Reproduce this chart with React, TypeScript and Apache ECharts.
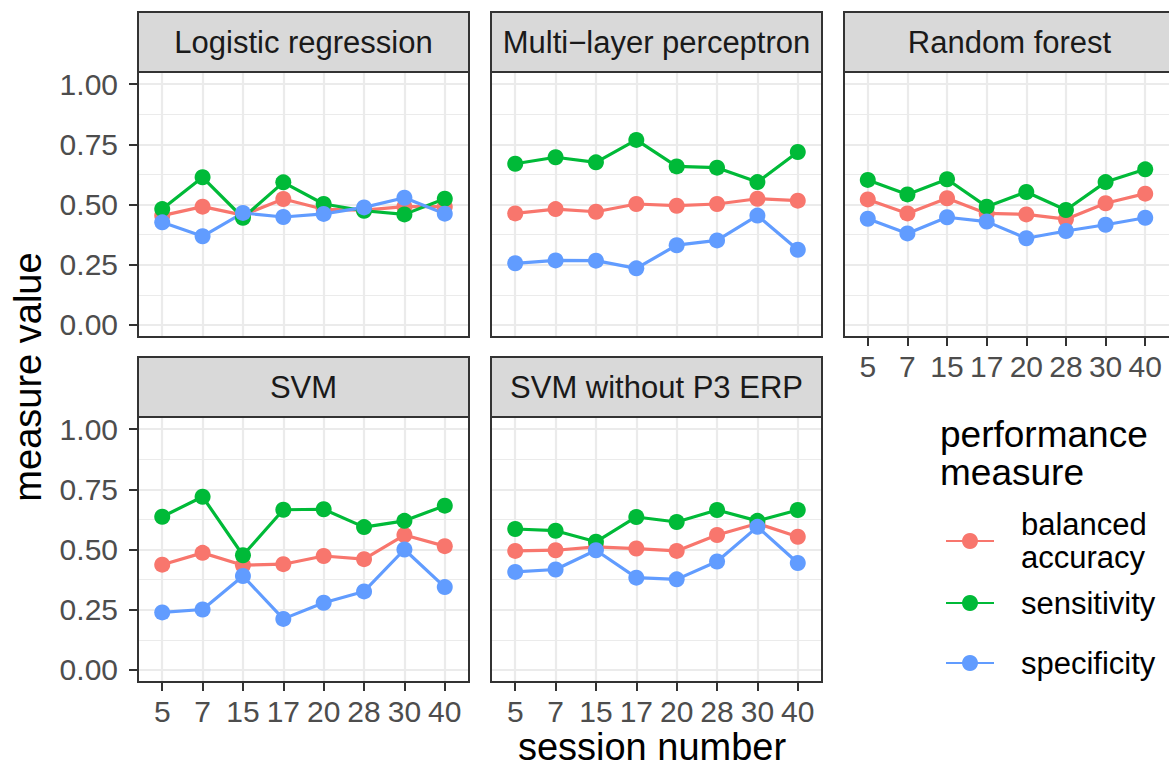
import React, { useEffect, useRef } from "react";
import * as echarts from "echarts";

// Session numbers shown on the discrete x axis
const sessions = ["5", "7", "15", "17", "20", "28", "30", "40"];

// Facet titles (one panel per classifier)
const models = [
  "Logistic regression",
  "Multi\u2212layer perceptron",
  "Random forest",
  "SVM",
  "SVM without P3 ERP",
];

const measures = ["balanced accuracy", "sensitivity", "specificity"];
const measureColors = ["#F8766D", "#00BA38", "#619CFF"];

// Rows follow the order of `models`, columns follow `sessions`
const balancedAccuracy = [
  [0.454, 0.491, 0.456, 0.523, 0.48, 0.477, 0.491, 0.491],
  [0.463, 0.481, 0.47, 0.502, 0.495, 0.502, 0.524, 0.516],
  [0.521, 0.463, 0.526, 0.463, 0.459, 0.439, 0.505, 0.545],
  [0.437, 0.486, 0.435, 0.439, 0.473, 0.46, 0.56, 0.514],
  [0.494, 0.497, 0.511, 0.504, 0.494, 0.56, 0.608, 0.553],
];

const sensitivity = [
  [0.481, 0.613, 0.445, 0.592, 0.502, 0.474, 0.459, 0.524],
  [0.669, 0.696, 0.675, 0.768, 0.658, 0.653, 0.593, 0.718],
  [0.602, 0.542, 0.605, 0.491, 0.552, 0.477, 0.593, 0.646],
  [0.636, 0.719, 0.476, 0.665, 0.667, 0.593, 0.619, 0.682],
  [0.585, 0.578, 0.532, 0.635, 0.614, 0.664, 0.619, 0.664],
];

const specificity = [
  [0.426, 0.368, 0.465, 0.448, 0.461, 0.488, 0.528, 0.462],
  [0.256, 0.268, 0.267, 0.235, 0.331, 0.351, 0.454, 0.312],
  [0.441, 0.38, 0.447, 0.429, 0.36, 0.39, 0.416, 0.445],
  [0.239, 0.251, 0.39, 0.212, 0.279, 0.326, 0.5, 0.344],
  [0.407, 0.417, 0.497, 0.383, 0.376, 0.45, 0.594, 0.444],
];

const yMajorTicks = [0, 0.25, 0.5, 0.75, 1];
const yMinorTicks = [0.125, 0.375, 0.625, 0.875];

const FONT = "'Liberation Sans', Arial, Helvetica, sans-serif";

// Facet layout (pixels)
const PANEL_W = 331;
const PANEL_H = 265;
const STRIP_H = 60;
const panelPos = [
  { left: 138, top: 72 },
  { left: 491, top: 72 },
  { left: 844, top: 72 },
  { left: 138, top: 417 },
  { left: 491, top: 417 },
];
const showXAxis = [false, false, true, true, true];
const showYAxis = [true, false, false, true, false];

function buildOption(): echarts.EChartsOption {
  const valueSets = [balancedAccuracy, sensitivity, specificity];
  const xPositions = sessions.map((_, i) => i + 1);

  const grid = panelPos.map((p) => ({
    left: p.left,
    top: p.top,
    width: PANEL_W,
    height: PANEL_H,
    show: false,
  }));

  const xAxis = panelPos.map((_, i) => ({
    gridIndex: i,
    type: "value" as const,
    min: 0.4,
    max: 8.6,
    axisLine: { show: false, onZero: false },
    axisTick: {
      show: showXAxis[i],
      customValues: xPositions,
      length: 9,
      lineStyle: { color: "#333333", width: 2 },
    },
    axisLabel: {
      show: showXAxis[i],
      customValues: xPositions,
      formatter: (v: number) => sessions[Math.round(v) - 1] ?? "",
      fontSize: 30,
      fontFamily: FONT,
      color: "#4D4D4D",
      margin: 14,
    },
    splitLine: { show: true, lineStyle: { color: "#EBEBEB", width: 2.2 } },
  }));

  const yAxis: any[] = [];
  panelPos.forEach((_, i) => {
    yAxis.push({
      gridIndex: i,
      type: "value",
      min: -0.05,
      max: 1.05,
      position: "left",
      axisLine: { show: false, onZero: false },
      axisTick: {
        show: showYAxis[i],
        customValues: yMajorTicks,
        length: 9,
        lineStyle: { color: "#333333", width: 2 },
      },
      axisLabel: {
        show: showYAxis[i],
        customValues: yMajorTicks,
        formatter: (v: number) => v.toFixed(2),
        fontSize: 30,
        fontFamily: FONT,
        color: "#4D4D4D",
        margin: 20,
      },
      splitLine: { show: true, lineStyle: { color: "#EBEBEB", width: 2.2 } },
    });
    yAxis.push({
      gridIndex: i,
      type: "value",
      min: -0.05,
      max: 1.05,
      position: "left",
      axisLine: { show: false, onZero: false },
      axisTick: { show: false, customValues: yMinorTicks },
      axisLabel: { show: false },
      splitLine: { show: true, lineStyle: { color: "#EBEBEB", width: 1.1 } },
    });
  });

  const series: any[] = [];
  panelPos.forEach((_, i) => {
    measures.forEach((name, m) => {
      series.push({
        type: "line",
        name,
        xAxisIndex: i,
        yAxisIndex: 2 * i,
        data: valueSets[m][i].map((v, k) => [xPositions[k], v]),
        symbol: "circle",
        symbolSize: 16,
        showSymbol: true,
        itemStyle: { color: measureColors[m] },
        lineStyle: { color: measureColors[m], width: 3.2 },
        emphasis: { disabled: true },
        z: 3,
      });
    });
  });

  const graphic: any[] = [];
  panelPos.forEach((p, i) => {
    graphic.push({
      type: "rect",
      shape: { x: p.left, y: p.top - STRIP_H, width: PANEL_W, height: STRIP_H },
      style: { fill: "#D9D9D9", stroke: "#333333", lineWidth: 2 },
      z: 5,
    });
    graphic.push({
      type: "text",
      x: p.left + PANEL_W / 2,
      y: p.top - STRIP_H / 2,
      style: {
        text: models[i],
        fontSize: 31,
        fontFamily: FONT,
        fill: "#1A1A1A",
        align: "center",
        verticalAlign: "middle",
      },
      z: 6,
    });
    graphic.push({
      type: "rect",
      shape: { x: p.left, y: p.top, width: PANEL_W, height: PANEL_H },
      style: { fill: "none", stroke: "#333333", lineWidth: 2 },
      z: 5,
      silent: true,
    });
  });
  graphic.push({
    type: "text",
    x: 28,
    y: 377,
    rotation: Math.PI / 2,
    style: {
      text: "measure value",
      fontSize: 38,
      fontFamily: FONT,
      fill: "#000000",
      align: "center",
      verticalAlign: "middle",
    },
  });
  graphic.push({
    type: "text",
    x: 652,
    y: 747,
    style: {
      text: "session number",
      fontSize: 38,
      fontFamily: FONT,
      fill: "#000000",
      align: "center",
      verticalAlign: "middle",
    },
  });

  const legendTops = [508, 586.5, 646.5];
  const legend = measures.map((name, m) => ({
    data: [name],
    orient: "vertical" as const,
    left: 945,
    top: legendTops[m],
    padding: 0,
    itemWidth: 48,
    itemHeight: 20,
    selectedMode: false,
    formatter: (n: string) => (n === "balanced accuracy" ? "balanced\naccuracy" : n),
    textStyle: {
      fontSize: 31,
      lineHeight: 33,
      fontFamily: FONT,
      color: "#000000",
      padding: [0, 0, 0, 22],
    },
  }));

  return {
    animation: false,
    backgroundColor: "#FFFFFF",
    title: {
      text: "performance\nmeasure",
      left: 940,
      top: 415,
      padding: 0,
      textStyle: {
        fontSize: 37,
        lineHeight: 38,
        fontWeight: "normal",
        fontFamily: FONT,
        color: "#000000",
      },
    },
    legend,
    grid,
    xAxis,
    yAxis,
    series,
    graphic,
  } as echarts.EChartsOption;
}

export default function App() {
  const ref = useRef<HTMLDivElement>(null);

  useEffect(() => {
    document.body.style.margin = "0";
    if (!ref.current) return;
    const chart = echarts.init(ref.current, undefined, { renderer: "svg" });
    chart.setOption(buildOption());
    return () => {
      chart.dispose();
    };
  }, []);

  return <div ref={ref} style={{ width: 1169, height: 769 }} />;
}
